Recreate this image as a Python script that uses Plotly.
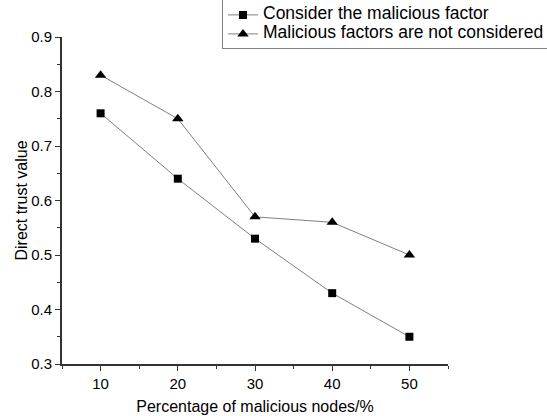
import plotly.graph_objects as go

x_vals = [10, 20, 30, 40, 50]
consider = [0.76, 0.64, 0.53, 0.43, 0.35]
not_considered = [0.83, 0.75, 0.57, 0.56, 0.50]
series_names = ["Consider the malicious factor", "Malicious factors are not considered"]

fig = go.Figure()
fig.add_trace(go.Scatter(x=x_vals, y=consider, mode="lines+markers",
                         name=f"<span style='font-size:17.5px'>{series_names[0]}</span>",
                         line=dict(color="#808080", width=1),
                         marker=dict(symbol="square", size=8, color="black")))
fig.add_trace(go.Scatter(x=x_vals, y=not_considered, mode="lines+markers",
                         name=f"<span style='font-size:17.5px'>{series_names[1]}</span>",
                         line=dict(color="#808080", width=1),
                         marker=dict(symbol="triangle-up", size=10, color="black")))

axis_common = dict(showgrid=False, zeroline=False, showline=True, linecolor="#333333", linewidth=2,
                   ticks="outside", ticklen=5, tickwidth=1, tickcolor="#333333",
                   tickfont=dict(family="Liberation Sans, Arial", size=15, color="black"))

fig.update_layout(
    width=547, height=416,
    margin=dict(l=62, r=99, t=37, b=52, autoexpand=False),
    plot_bgcolor="white", paper_bgcolor="white",
    font=dict(family="Liberation Sans, Arial", color="black"),
    xaxis=dict(range=[5, 55], tickvals=[10, 20, 30, 40, 50],
               minor=dict(tickvals=[5, 15, 25, 35, 45, 55], ticks="outside", ticklen=3, tickcolor="#333333"),
               title=dict(text="Percentage of malicious nodes/%", font=dict(size=16), standoff=10),
               **axis_common),
    yaxis=dict(range=[0.3, 0.9], tickvals=[0.3, 0.4, 0.5, 0.6, 0.7, 0.8, 0.9], tickformat=".1f",
               minor=dict(tickvals=[0.35, 0.45, 0.55, 0.65, 0.75, 0.85], ticks="outside", ticklen=3, tickcolor="#333333"),
               title=dict(text="Direct trust value", font=dict(size=16), standoff=0),
               **axis_common),
    showlegend=True,
    legend=dict(x=0.4145, y=1.115, xanchor="left", yanchor="top",
                bordercolor="#808080", borderwidth=1, bgcolor="white",
                font=dict(size=11, color="black"), tracegroupgap=0,
                itemwidth=30),
)

fig.write_html("out.html", config={"displayModeBar": False},
               post_script="document.body.style.margin='0';")
